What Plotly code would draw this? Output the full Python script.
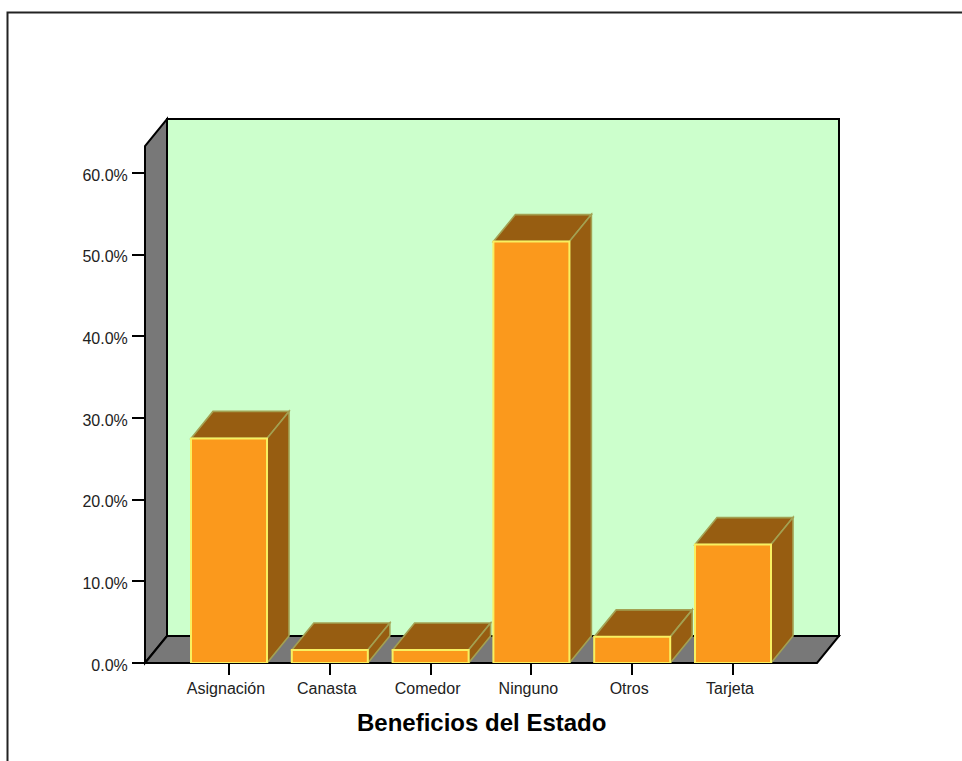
import plotly.graph_objects as go

categories = ["Asignación", "Canasta", "Comedor", "Ninguno", "Otros", "Tarjeta"]
values = [27.5, 1.6, 1.6, 51.6, 3.2, 14.5]
y_ticks = [0, 10, 20, 30, 40, 50, 60]
x_title = "Beneficios del Estado"

W, H = 962, 761
L, R, T, B = 145, 839, 119, 663          # plot box in pixels (including depth)
DX_PX, DY_PX = 22, 27                    # depth of the 3D projection
CAT_PX = 100.8                           # pixels per category
Y_PX = 8.167                             # pixels per percent
FIRST_TICK_PX = 229
BAR_W = 76 / CAT_PX

x0 = (L - FIRST_TICK_PX) / CAT_PX
x_range = [x0, x0 + (R - L) / CAT_PX]
y_range = [0, (B - T) / Y_PX]
dx, dy = DX_PX / CAT_PX, DY_PX / Y_PX

WALL = "#CCFFCC"; GREY = "#787878"; BAR = "#FB991C"; DARK = "#975D11"
BAR_EDGE = "#F8F060"; DARK_EDGE = "#A3A152"; INK = "#000000"; TXT = "#222222"
FONT = "Liberation Sans, Arial, sans-serif"

def px(x, y):
    return f"{x / W:.5f} {1 - y / H:.5f}".split()

def paper_path(points, close=True):
    parts = []
    for i, (x, y) in enumerate(points):
        a, b = px(x, y)
        parts.append(("M" if i == 0 else "L") + f"{a},{b}")
    return " ".join(parts) + (" Z" if close else "")

def paper_shape(points, fill=None, line=INK, width=2, close=True):
    return dict(type="path", xref="paper", yref="paper", layer="below",
                path=paper_path(points, close),
                fillcolor=fill if fill else "rgba(0,0,0,0)",
                line=dict(color=line, width=width))

def data_shape(points):
    path = " ".join(("M" if i == 0 else "L") + f"{x:.4f},{y:.4f}" for i, (x, y) in enumerate(points)) + " Z"
    return dict(type="path", xref="x", yref="y", layer="below", path=path,
                fillcolor=DARK, line=dict(color=DARK_EDGE, width=1.6))

shapes = [
    # outer frame, open at right and bottom
    paper_shape([(7.5, H + 5), (7.5, 12.5), (W + 5, 12.5)], line="#222222", width=2, close=False),
    # back wall, side wall, floor
    paper_shape([(L + DX_PX, T), (R, T), (R, B - DY_PX), (L + DX_PX, B - DY_PX)], fill=WALL),
    paper_shape([(L, B), (L, T + DY_PX), (L + DX_PX, T), (L + DX_PX, B - DY_PX)], fill=GREY),
    paper_shape([(L, B), (L + DX_PX, B - DY_PX), (R, B - DY_PX), (R - DX_PX, B)], fill=GREY),
]
for i, v in enumerate(values):
    a, b = i - BAR_W / 2, i + BAR_W / 2
    shapes.append(data_shape([(a, v), (a + dx, v + dy), (b + dx, v + dy), (b, v)]))
    shapes.append(data_shape([(b, 0), (b, v), (b + dx, v + dy), (b + dx, dy)]))

fig = go.Figure(go.Bar(
    x=list(range(len(categories))), y=values, width=BAR_W, cliponaxis=False,
    marker=dict(color=BAR, line=dict(color=BAR_EDGE, width=2)),
    hovertext=categories, hoverinfo="text+y",
))

fig.update_layout(
    width=W, height=H, margin=dict(l=0, r=0, t=0, b=0, pad=0), autosize=False,
    paper_bgcolor="white", plot_bgcolor="rgba(0,0,0,0)", showlegend=False,
    font=dict(family=FONT, size=16, color=TXT),
    shapes=shapes,
    xaxis=dict(domain=[L / W, R / W], range=x_range, tickmode="array", automargin=False,
               tickvals=list(range(len(categories))), ticktext=categories,
               ticks="outside", ticklen=11, tickwidth=2, tickcolor=INK,
               showgrid=False, zeroline=False, showline=False, ticklabelshift=-3,
               tickfont=dict(family=FONT, size=16, color=TXT)),
    yaxis=dict(domain=[1 - B / H, 1 - T / H], range=y_range, tickmode="array", automargin=False,
               tickvals=y_ticks, ticktext=[f"{t:.1f}%" for t in y_ticks],
               ticks="outside", ticklen=12, tickwidth=2, tickcolor=INK,
               showgrid=False, zeroline=False, showline=False,
               ticklabelstandoff=1, ticklabelshift=2,
               tickfont=dict(family=FONT, size=16, color=TXT)),
    annotations=[dict(text=f"<b>{x_title}</b>", xref="paper", yref="paper",
                      x=481 / W, y=1 - 722 / H, xanchor="center", yanchor="middle",
                      showarrow=False, font=dict(family=FONT, size=24, color="#000000"))],
)

fig.write_html("out.html", config=dict(displayModeBar=False),
               post_script="document.body.style.margin='0';document.documentElement.style.overflow='hidden';")
